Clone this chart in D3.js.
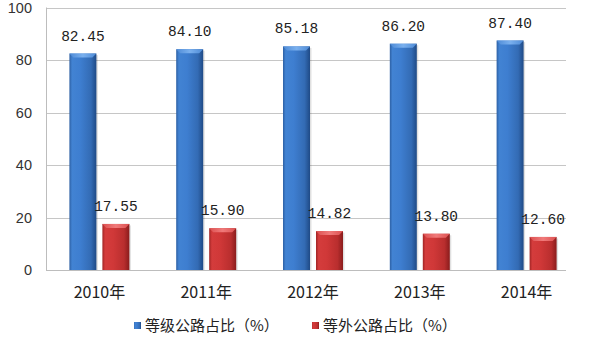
<!DOCTYPE html>
<html>
<head>
<meta charset="utf-8">
<script src="https://cdn.jsdelivr.net/npm/d3@7"></script>
<style>
  body { margin: 0; background: #fff; }
  svg { display: block; }
</style>
</head>
<body>
<div id="chart"></div>
<script>
// data
var years = ["2010年", "2011年", "2012年", "2013年", "2014年"];
var graded = [82.45, 84.10, 85.18, 86.20, 87.40];
var ungraded = [17.55, 15.90, 14.82, 13.80, 12.60];
var seriesNames = ["等级公路占比（%）", "等外公路占比（%）"];
var yTicks = [0, 20, 40, 60, 80, 100];

var W = 590, H = 338;
var plotL = 46, plotR = 566;     // visible grid extent
var bandR = 580;                 // category slots run a bit past the grid
var plotT = 7.5, plotB = 270;

var svg = d3.select("#chart").append("svg")
  .attr("width", W).attr("height", H);

var x = d3.scaleBand().domain(years).range([plotL, bandR]);
var y = d3.scaleLinear().domain([0, 100]).range([plotB, plotT]);

var barW = 27, gap = 6;

// gradients for the bevelled bars
var defs = svg.append("defs");
function grad(id, stops) {
  var g = defs.append("linearGradient").attr("id", id)
    .attr("x1", "0%").attr("x2", "100%").attr("y1", "0%").attr("y2", "0%");
  stops.forEach(function(s) {
    g.append("stop").attr("offset", s[0]).attr("stop-color", s[1]);
  });
}
grad("gBlue", [["0%", "#2d60a4"], ["10%", "#4283d3"], ["40%", "#3e7ed0"], ["80%", "#336bb4"], ["100%", "#1f4a86"]]);
grad("gRed", [["0%", "#a02424"], ["10%", "#d43c3c"], ["40%", "#d03838"], ["80%", "#b92e2e"], ["100%", "#8a1c1c"]]);
grad("gBlueTop", [["0%", "#4d8ad6"], ["50%", "#7ab0ee"], ["100%", "#4d8ad6"]]);
grad("gRedTop", [["0%", "#dc5050"], ["50%", "#f07a7a"], ["100%", "#dc5050"]]);

// gridlines
svg.append("g").selectAll("line").data(yTicks.filter(function(d) { return d > 0; }))
  .enter().append("line")
  .attr("x1", plotL).attr("x2", plotR)
  .attr("y1", function(d) { return Math.round(y(d)) + 0.5; })
  .attr("y2", function(d) { return Math.round(y(d)) + 0.5; })
  .attr("stroke", "#c6c6c6").attr("stroke-width", 1);

// axis lines
svg.append("line")
  .attr("x1", plotL + 0.5).attr("x2", plotL + 0.5)
  .attr("y1", y(100)).attr("y2", y(0))
  .attr("stroke", "#bdbdbd");
svg.append("line")
  .attr("x1", plotL).attr("x2", plotR)
  .attr("y1", Math.round(y(0)) + 0.5).attr("y2", Math.round(y(0)) + 0.5)
  .attr("stroke", "#bdbdbd");

// y tick labels
svg.append("g").selectAll("text").data(yTicks).enter().append("text")
  .attr("x", 32).attr("y", function(d) { return y(d) + 5; })
  .attr("text-anchor", "end")
  .style("font-family", "Liberation Sans, Arial, sans-serif")
  .style("font-size", "14.5px").style("fill", "#333")
  .text(function(d) { return d; });

// bars
function drawSeries(vals, offset, fillId, topId) {
  var g = svg.append("g");
  vals.forEach(function(v, i) {
    var cx = x(years[i]) + x.bandwidth() / 2 + offset;
    var x0 = cx - barW / 2, x1 = cx + barW / 2;
    var yt = y(v), yb = y(0);
    // soft shadow
    g.append("rect").attr("x", x0 + 1.5).attr("y", yt + 1.5)
      .attr("width", barW).attr("height", yb - yt - 1.5)
      .attr("fill", "#000").attr("opacity", 0.12);
    g.append("rect").attr("x", x0).attr("y", yt)
      .attr("width", barW).attr("height", yb - yt)
      .attr("fill", "url(#" + fillId + ")");
    // top bevel
    var b = 4;
    g.append("path")
      .attr("d", "M" + x0 + "," + yt + "L" + x1 + "," + yt + "L" + (x1 - b) + "," + (yt + b) +
        "L" + (x0 + b) + "," + (yt + b) + "Z")
      .attr("fill", "url(#" + topId + ")");
  });
}
drawSeries(graded, -(barW + gap) / 2, "gBlue", "gBlueTop");
drawSeries(ungraded, (barW + gap) / 2, "gRed", "gRedTop");

// value labels
function drawLabels(vals, offset) {
  svg.append("g").selectAll("text").data(vals).enter().append("text")
    .attr("x", function(d, i) { return x(years[i]) + x.bandwidth() / 2 + offset; })
    .attr("y", function(d) { return y(d) - 13; })
    .attr("text-anchor", "middle")
    .style("font-family", "Liberation Mono, DejaVu Sans Mono, monospace")
    .style("font-size", "14.5px").style("fill", "#222")
    .text(function(d) { return d.toFixed(2); });
}
drawLabels(graded, -(barW + gap) / 2);
drawLabels(ungraded, (barW + gap) / 2);

// x labels
svg.append("g").selectAll("text").data(years).enter().append("text")
  .attr("x", function(d) { return x(d) + x.bandwidth() / 2; })
  .attr("y", 298)
  .attr("text-anchor", "middle")
  .style("font-family", "Noto Sans CJK SC, sans-serif")
  .style("font-size", "16px").style("fill", "#222")
  .text(function(d) { return d; });

// legend
var legend = svg.append("g");
var legX = [134, 312];
seriesNames.forEach(function(name, i) {
  legend.append("rect").attr("x", legX[i]).attr("y", 322)
    .attr("width", 7).attr("height", 7)
    .attr("fill", i === 0 ? "url(#gBlue)" : "url(#gRed)");
  legend.append("text").attr("x", legX[i] + 11).attr("y", 331)
    .style("font-family", "Noto Sans CJK SC, sans-serif")
    .style("font-size", "15px").style("fill", "#222")
    .text(name);
});
</script>
</body>
</html>
